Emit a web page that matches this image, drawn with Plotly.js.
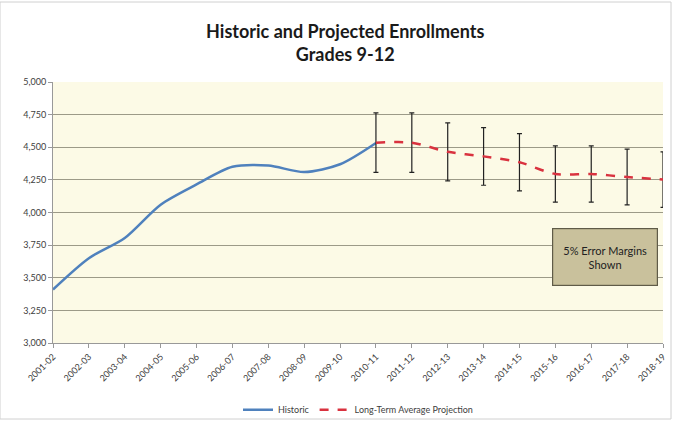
<!DOCTYPE html>
<html><head><meta charset="utf-8">
<script src="https://cdn.plot.ly/plotly-3.0.1.min.js"></script>
<style>html,body{margin:0;padding:0;background:#fff}#c{width:673px;height:421px}</style>
</head><body><div id="c"></div>
<script>
var years = ["2001-02","2002-03","2003-04","2004-05","2005-06","2006-07","2007-08","2008-09","2009-10","2010-11","2011-12","2012-13","2013-14","2014-15","2015-16","2016-17","2017-18","2018-19"];
var historicYears = ["2001-02","2002-03","2003-04","2004-05","2005-06","2006-07","2007-08","2008-09","2009-10","2010-11"];
var historic = [3410, 3650, 3805, 4060, 4215, 4350, 4360, 4310, 4370, 4533];
var projYears = ["2010-11","2011-12","2012-13","2013-14","2014-15","2015-16","2016-17","2017-18","2018-19"];
var projection = [4535, 4535, 4465, 4430, 4385, 4295, 4295, 4272, 4252];
var errorMargin = [228, 228, 222, 221, 219, 215, 215, 213, 212];
var yTicks = [3000,3250,3500,3750,4000,4250,4500,4750,5000];
var yTickText = ["3,000","3,250","3,500","3,750","4,000","4,250","4,500","4,750","5,000"];

var font = "Lato, 'Open Sans', sans-serif";
var traces = [
  {x: historicYears, y: historic, name: "Historic", type: "scatter", mode: "lines",
   line: {color: "#4f81bd", width: 2.5, shape: "spline", smoothing: 0.8}},
  {x: projYears, y: projection, name: "Long-Term Average Projection", type: "scatter", mode: "lines",
   line: {color: "#d9323f", width: 2.5, dash: "dash", shape: "spline", smoothing: 0.8},
   error_y: {type: "data", array: errorMargin, visible: true, color: "#222", thickness: 1.2, width: 2.5}}
];
var layout = {
  width: 673, height: 421,
  margin: {l: 53, r: 10, t: 82, b: 78, autoexpand: false},
  paper_bgcolor: "#ffffff", plot_bgcolor: "#fcfae6",
  font: {family: font, color: "#404040"},
  title: {text: "<b>Historic and Projected Enrollments<br>Grades 9-12</b>", x: 0.513, xanchor: "center", y: 0.91, yanchor: "top",
          font: {family: font, size: 18, color: "#1a1a1a"}},
  xaxis: {type: "category", categoryorder: "array", categoryarray: years, range: [0, 17], automargin: false,
          tickangle: -45, tickfont: {size: 9, color: "#404040"}, ticks: "outside", ticklen: 4, tickcolor: "#999",
          showgrid: false, showline: true, linecolor: "#999", linewidth: 1, zeroline: false, fixedrange: true},
  yaxis: {range: [3000, 5000], tickvals: yTicks, ticktext: yTickText, tickfont: {size: 9, color: "#404040"}, automargin: false,
          ticks: "outside", ticklen: 4, tickcolor: "#999", showgrid: true, gridcolor: "#9c9a88", gridwidth: 1,
          showline: true, linecolor: "#999", zeroline: false},
  showlegend: true,
  legend: {orientation: "h", x: 0.5, xanchor: "center", y: -0.2, yanchor: "top", font: {size: 9, color: "#404040"},
           bgcolor: "rgba(0,0,0,0)"},
  annotations: [{xref: "paper", yref: "paper", x: 0.905, y: 0.33, xanchor: "center", yanchor: "middle",
     text: "5% Error Margins<br>Shown", showarrow: false, font: {size: 11, color: "#222"},
     width: 88, height: 40, bgcolor: "#c9c19c", bordercolor: "#5f5b48", borderwidth: 1.2, borderpad: 8}],
  shapes: [{type: "rect", xref: "paper", yref: "paper", x0: -53/610, x1: 1 + 8/610, y0: -76/261, y1: 1 + 80/261,
            line: {color: "#d0d0d0", width: 1}, fillcolor: "rgba(0,0,0,0)", layer: "below"}]
};
Plotly.newPlot("c", traces, layout, {displayModeBar: false, staticPlot: true});
</script></body></html>
